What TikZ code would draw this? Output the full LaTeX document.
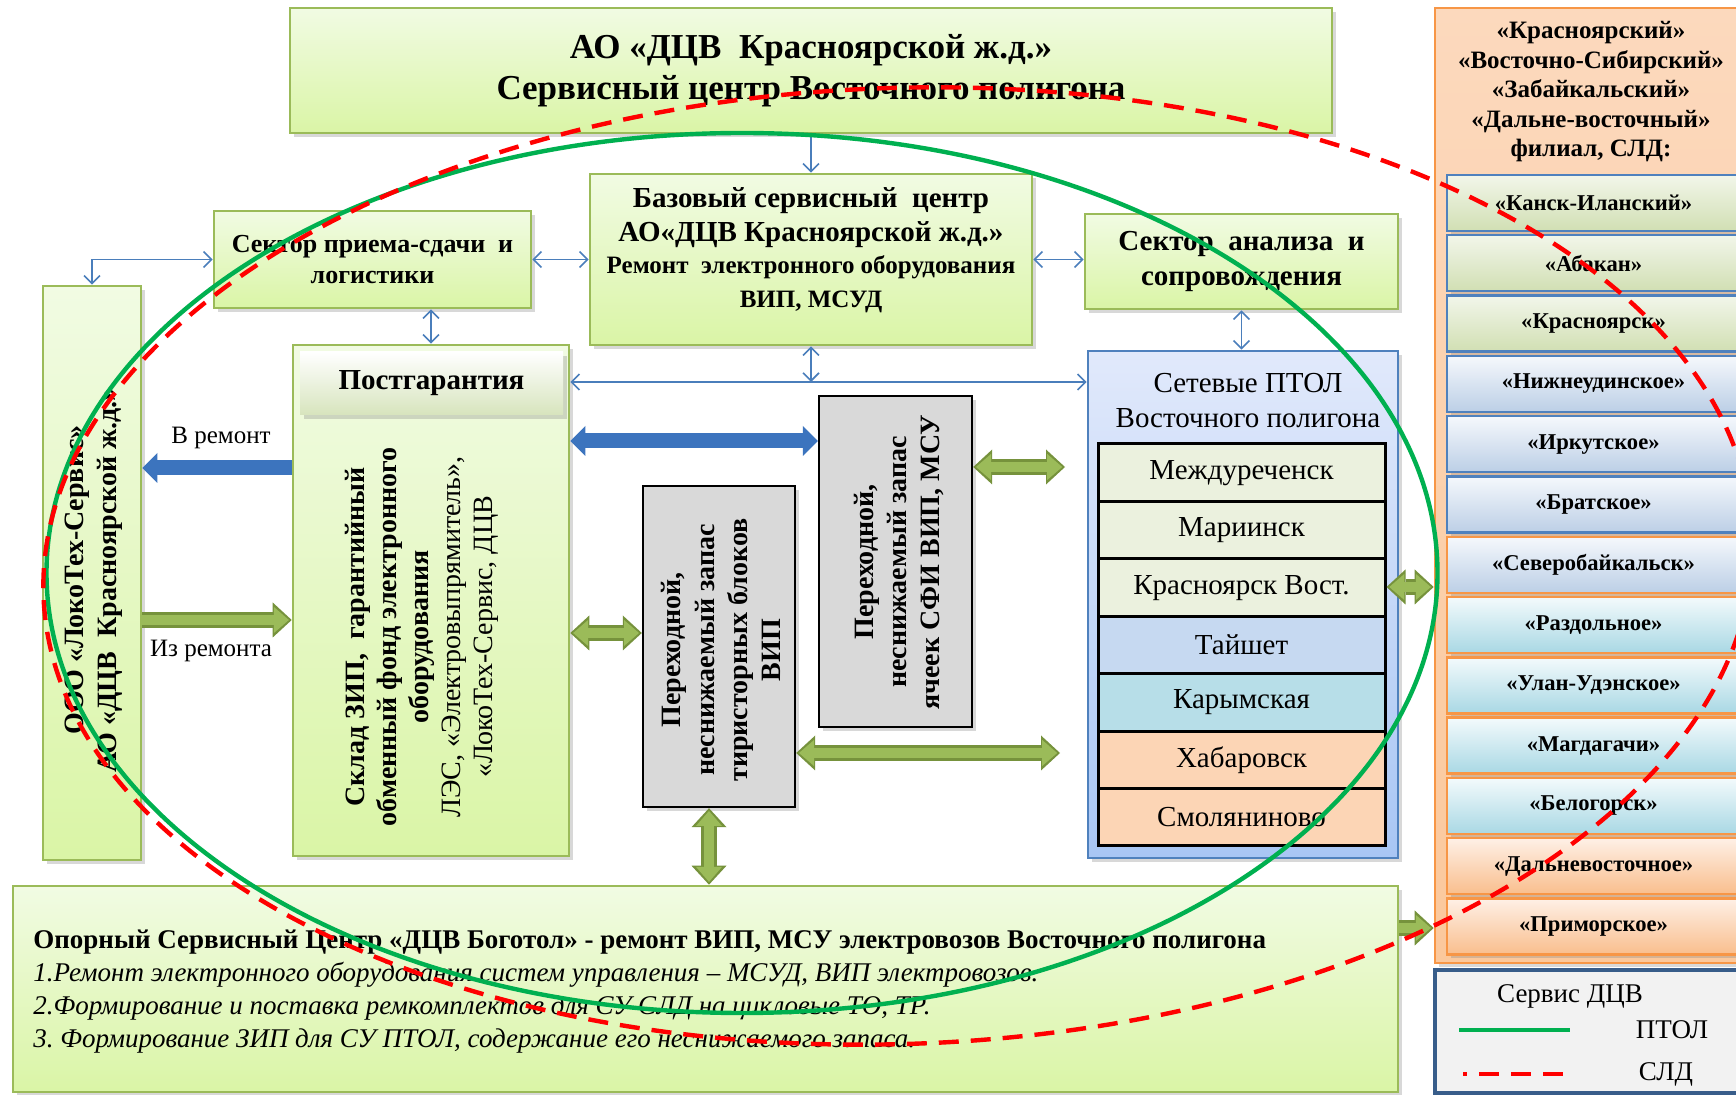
\documentclass[tikz,border=0pt]{standalone}
\usepackage{fontspec}
\setmainfont{Liberation Serif}
\usetikzlibrary{arrows.meta,shadows}

\newcommand\fsz[2]{\fontsize{#1}{#2}\selectfont}

\definecolor{bgblue}{HTML}{C7DAF0}
\definecolor{boxgreen}{HTML}{9BBB59}
\definecolor{gtop}{HTML}{F1FBE3}
\definecolor{gbot}{HTML}{DAF5A6}
\definecolor{headbot}{HTML}{D7E4BD}
\definecolor{greyfill}{HTML}{D9D9D9}
\definecolor{ptolborder}{HTML}{4F81BD}
\definecolor{ptoltop}{HTML}{E1E9FB}
\definecolor{ptolbot}{HTML}{A8C6F4}
\definecolor{rowa}{HTML}{EBF1DE}
\definecolor{rowb}{HTML}{C6D9F1}
\definecolor{rowc}{HTML}{B7DEE8}
\definecolor{rowd}{HTML}{FCD5B5}
\definecolor{orangeline}{HTML}{F79646}
\definecolor{orangetop}{HTML}{FCD9BD}
\definecolor{orangebot}{HTML}{FBC89C}
\definecolor{sgtop}{HTML}{F2F6EA}
\definecolor{sgbot}{HTML}{D1DFB3}
\definecolor{sbtop}{HTML}{F5F8FC}
\definecolor{sbbot}{HTML}{BCCFE6}
\definecolor{sttop}{HTML}{F3FAFC}
\definecolor{stbot}{HTML}{A9D8E4}
\definecolor{sptop}{HTML}{FEF0E6}
\definecolor{spbot}{HTML}{F9BE8D}
\definecolor{legendfill}{HTML}{F2F2F2}
\definecolor{legendline}{HTML}{385D8A}
\definecolor{linkblue}{HTML}{4A7EBB}
\definecolor{fatblue}{HTML}{3C74BE}
\definecolor{arrgreen}{HTML}{9BBB59}
\definecolor{arrgreendk}{HTML}{76923C}
\definecolor{ptolgreen}{HTML}{00B050}
\definecolor{sldred}{HTML}{FF0000}

\tikzset{
    shad/.style={drop shadow={shadow xshift=1.8pt,shadow yshift=-1.8pt,opacity=.3}},
    greenbox/.style={draw=boxgreen, line width=1.3pt, top color=gtop, bottom color=gbot,
        shad, align=center, inner sep=0pt},
    headbox/.style={top color=white, bottom color=headbot, shad, inner sep=0pt},
    greybox/.style={draw=black, line width=1.2pt, fill=greyfill, shad, inner sep=0pt},
    ptolbox/.style={draw=ptolborder, line width=1.3pt, top color=ptoltop, bottom color=ptolbot, shad},
    ptolrow/.style={draw=black, line width=1.5pt, minimum width=143.5pt, minimum height=28.7pt,
        inner sep=0pt, font=\fsz{14.5}{16}},
    sldrow/.style={line width=1.2pt, minimum width=146.5pt, minimum height=28pt,
        inner sep=0pt, font=\bfseries\fsz{11.3}{13}, shad},
    rowgreen/.style={sldrow, draw=ptolborder, top color=sgtop, bottom color=sgbot},
    rowblue/.style={sldrow, draw=ptolborder, top color=sbtop, bottom color=sbbot},
    rowblueo/.style={sldrow, draw=orangeline, top color=sbtop, bottom color=sbbot},
    rowteal/.style={sldrow, draw=orangeline, top color=sttop, bottom color=stbot},
    rowpeach/.style={sldrow, draw=orangeline, top color=sptop, bottom color=spbot},
    vtext/.style={rotate=90, align=center, inner sep=0pt},
    lbl/.style={inner sep=0pt, font=\fsz{12.5}{14}},
    barb/.tip={Straight Barb[length=4pt,width=8pt]},
    bigtip/.tip={Triangle[length=7.5pt,width=15pt,line width=0pt]},
    gtipin/.tip={Triangle[length=7.5pt,width=13pt,line width=0pt]},
    gtipout/.tip={Triangle[length=9.5pt,width=17.5pt,line width=0pt]},
    link/.style={draw=linkblue, line width=0.8pt, barb-barb},
    linkone/.style={draw=linkblue, line width=0.8pt, -barb},
    fatone/.style={draw=fatblue, line width=7.5pt, -bigtip},
    fatboth/.style={draw=fatblue, line width=7.5pt, bigtip-bigtip},
    greenone/.style={draw=arrgreen, line width=5pt, -gtipin, shorten >=1.4pt,
        preaction={draw=arrgreendk, line width=8pt, -gtipout, shorten >=0pt}},
    greenboth/.style={draw=arrgreen, line width=5pt, gtipin-gtipin, shorten >=1.4pt, shorten <=1.4pt,
        preaction={draw=arrgreendk, line width=8pt, gtipout-gtipout, shorten >=0pt, shorten <=0pt}},
    ptolline/.style={draw=ptolgreen, line width=2.2pt},
    sldline/.style={draw=sldred, line width=2.2pt, dash pattern=on 10pt off 6pt},
}

\begin{document}
\begin{tikzpicture}[x=0.5pt, y=-0.5pt]
\useasboundingbox (0,0) rectangle (1736,1095);
\clip (0,0) rectangle (1736,1095);
\shade[top color=white, middle color=bgblue, bottom color=white] (0,0) rectangle (1736,1095);

% boxes
\node[greenbox, minimum width=521pt, minimum height=62.5pt, font=\bfseries\fsz{17.5}{20.5}] (top) at (811,70.5)
    {АО «ДЦВ\ \ Красноярской ж.д.»\\Сервисный центр Восточного полигона};
\node[greenbox, minimum width=221pt, minimum height=85.5pt] (base) at (811,259.5) {};
\node[align=center, inner sep=0pt, font=\bfseries\fsz{14.5}{17}] (base text) at (811,250)
    {Базовый сервисный\ \ центр\\АО«ДЦВ Красноярской ж.д.»\\[-1pt]\fsz{12.5}{14}Ремонт\ \ электронного оборудования\\\fsz{12.5}{14}ВИП, МСУД};
\node[greenbox, minimum width=158.5pt, minimum height=48.5pt, font=\bfseries\fsz{13}{15.5}] (priem) at (372.5,259.5)
    {Сектор приема-сдачи\ \ и\\логистики};
\node[greenbox, minimum width=156.5pt, minimum height=47.5pt, font=\bfseries\fsz{14.5}{17.7}] (analiz) at (1241.5,261.5)
    {Сектор\ \ анализа\ \ и\\сопровождения};
\node[greenbox, minimum width=49pt, minimum height=287pt] (ooo) at (92,573) {};
\node[vtext, font=\bfseries\fsz{14}{16.6}] (ooo text) at (94,580)
    {ООО «ЛокоТех-Сервис»\\АО «ДЦВ\ \ Красноярской ж.д.»};
\node[greenbox, minimum width=138pt, minimum height=255.5pt] (post) at (431,600.5) {};
\node[headbox, minimum width=131.5pt, minimum height=31.5pt, font=\bfseries\fsz{14.5}{16}] (post head) at (431.5,383.5)
    {Постгарантия};
\node[vtext, font=\fsz{14}{16}] (post text) at (422,637)
    {\bfseries Склад ЗИП,\ \ гарантийный\\\bfseries обменный фонд электронного\\\bfseries оборудования\\ЛЭС, «Электровыпрямитель»,\\«ЛокоТех-Сервис, ДЦВ};
\node[greybox, minimum width=76pt, minimum height=160.5pt] (grey1) at (719,646.5) {};
\node[vtext, font=\bfseries\fsz{14}{16.6}] (grey1 text) at (721,650)
    {Переходной,\\неснижаемый запас\\тиристорных блоков\\ВИП};
\node[greybox, minimum width=76.5pt, minimum height=165.5pt] (grey2) at (895.5,561.5) {};
\node[vtext, font=\bfseries\fsz{14}{16.6}] (grey2 text) at (899,562)
    {Переходной,\\неснижаемый запас\\ячеек СФИ ВИП, МСУ};

% ПТОЛ
\node[ptolbox, minimum width=155pt, minimum height=253.5pt] (ptol) at (1243,604.5) {};
\node[align=center, inner sep=0pt, font=\fsz{14.5}{17.5}] (ptol head) at (1248,400.5)
    {Сетевые ПТОЛ\\Восточного полигона};
\node[ptolrow, fill=rowa] (mezh) at (1241.5,472.7) {Междуреченск};
\node[ptolrow, fill=rowa] (mar) at (1241.5,530.1) {Мариинск};
\node[ptolrow, fill=rowa] (krv) at (1241.5,587.6) {Красноярск Вост.};
\node[ptolrow, fill=rowb] (taish) at (1241.5,645.0) {Тайшет};
\node[ptolrow, fill=rowc] (kar) at (1241.5,702.4) {Карымская};
\node[ptolrow, fill=rowd] (hab) at (1241.5,759.9) {Хабаровск};
\node[ptolrow, fill=rowd] (smol) at (1241.5,817.3) {Смоляниново};

% bottom
\node[greenbox, minimum width=692.5pt, minimum height=103pt] (bottom) at (705.5,989) {};
\node[anchor=west, align=left, inner sep=0pt, font=\fsz{13.5}{16.5}] (bottom text) at (33,991.5)
    {\bfseries Опорный Сервисный Центр «ДЦВ Боготол» - ремонт ВИП, МСУ электровозов Восточного полигона\\
     \itshape 1.Ремонт электронного оборудования систем управления – МСУД, ВИП электровозов.\\
     \itshape 2.Формирование и поставка ремкомплектов для СУ СЛД на цикловые ТО, ТР.\\
     \itshape 3.\ Формирование ЗИП для СУ ПТОЛ, содержание его неснижаемого запаса.};

% СЛД
\node[draw=orangeline, line width=1.3pt, top color=orangetop, bottom color=orangebot,
    minimum width=152.5pt, minimum height=477.5pt, shad] (sld) at (1587.5,485.5) {};
\node[align=center, inner sep=0pt, font=\bfseries\fsz{12.5}{14.75}] (sld head) at (1591,92)
    {«Красноярский»\\«Восточно-Сибирский»\\«Забайкальский»\\«Дальне-восточный»\\филиал, СЛД:};
\node[rowgreen] (kansk) at (1593.5,203) {«Канск-Иланский»};
\node[rowgreen] (abakan) at (1593.5,263.3) {«Абакан»};
\node[rowgreen] (krsk) at (1593.5,323.6) {«Красноярск»};
\node[rowblue] (nizh) at (1593.5,383.9) {«Нижнеудинское»};
\node[rowblue] (irk) at (1593.5,444.2) {«Иркутское»};
\node[rowblue] (brat) at (1593.5,504.5) {«Братское»};
\node[rowblueo] (sevb) at (1593.5,564.8) {«Северобайкальск»};
\node[rowteal] (razd) at (1593.5,625.1) {«Раздольное»};
\node[rowteal] (ulan) at (1593.5,685.4) {«Улан-Удэнское»};
\node[rowteal] (magd) at (1593.5,745.7) {«Магдагачи»};
\node[rowteal] (belog) at (1593.5,806) {«Белогорск»};
\node[rowpeach] (dalv) at (1593.5,866.3) {«Дальневосточное»};
\node[rowpeach] (prim) at (1593.5,926.6) {«Приморское»};

% legend
\node[draw=legendline, line width=2pt, fill=legendfill, minimum width=152.5pt, minimum height=61.5pt] (legend) at (1587.5,1031.5) {};
\node[inner sep=0pt, font=\fsz{13.5}{15}] (leg title) at (1570,996) {Сервис ДЦВ};
\node[inner sep=0pt, font=\fsz{13.5}{15}] (leg ptol) at (1672,1030) {ПТОЛ};
\node[inner sep=0pt, font=\fsz{13.5}{15}] (leg sld) at (1666,1074) {СЛД};
\draw[ptolline] (1459,1030) -- (1570,1030);
\draw[sldline, dash phase=8pt] (1463,1074) -- (1572,1074);

% connectors
\coordinate (hub) at (811,382);
\coordinate (vrem) at (0,468);
\coordinate (izrem) at (0,620);
\coordinate (fatrow) at (0,441);
\coordinate (grrow1) at (0,633);
\coordinate (grcol) at (709,0);
\coordinate (grrow5) at (0,587);
\coordinate (grrow6) at (0,928);
\coordinate (sfi end) at (1065,467);
\coordinate (tir end) at (1060,753);

\draw[linkone] (top.south) -- (base.north);
\draw[link] (priem.east) -- (base.west);
\draw[link] (base.east) -- (base.east -| analiz.west);
\draw[link] (post.north |- priem.south) -- (post.north);
\draw[link] (analiz.south) -- (analiz.south |- ptol.north);
\draw[link] (base.south) -- (hub);
\draw[link] (hub -| post.east) -- (hub -| ptol.west);
\draw[link] (priem.west) -| (ooo.north);

\draw[fatone] (post.west |- vrem) -- (ooo.east |- vrem);
\node[lbl] (vrem lbl) at (221,438) {В ремонт};
\draw[greenone] (ooo.east |- izrem) -- (post.west |- izrem);
\node[lbl] (izrem lbl) at (211,651) {Из ремонта};
\draw[fatboth] (post.east |- fatrow) -- (grey2.west |- fatrow);
\draw[greenboth] (post.east |- grrow1) -- (grey1.west |- grrow1);
\draw[greenboth] (grey2.east |- sfi end) -- (sfi end);
\draw[greenboth] (grey1.east |- tir end) -- (tir end);
\draw[greenboth] (grey1.south -| grcol) -- (bottom.north -| grcol);
\draw[greenboth] (krv.east |- grrow5) -- (sld.west |- grrow5);
\draw[greenone] (bottom.east |- grrow6) -- (sld.west |- grrow6);

% service areas
\draw[ptolline] (742,573) ellipse [x radius=695.5, y radius=440];
\draw[sldline, rotate around={2:(898,566)}] (898,566) ellipse [x radius=855, y radius=478];
\end{tikzpicture}
\end{document}
